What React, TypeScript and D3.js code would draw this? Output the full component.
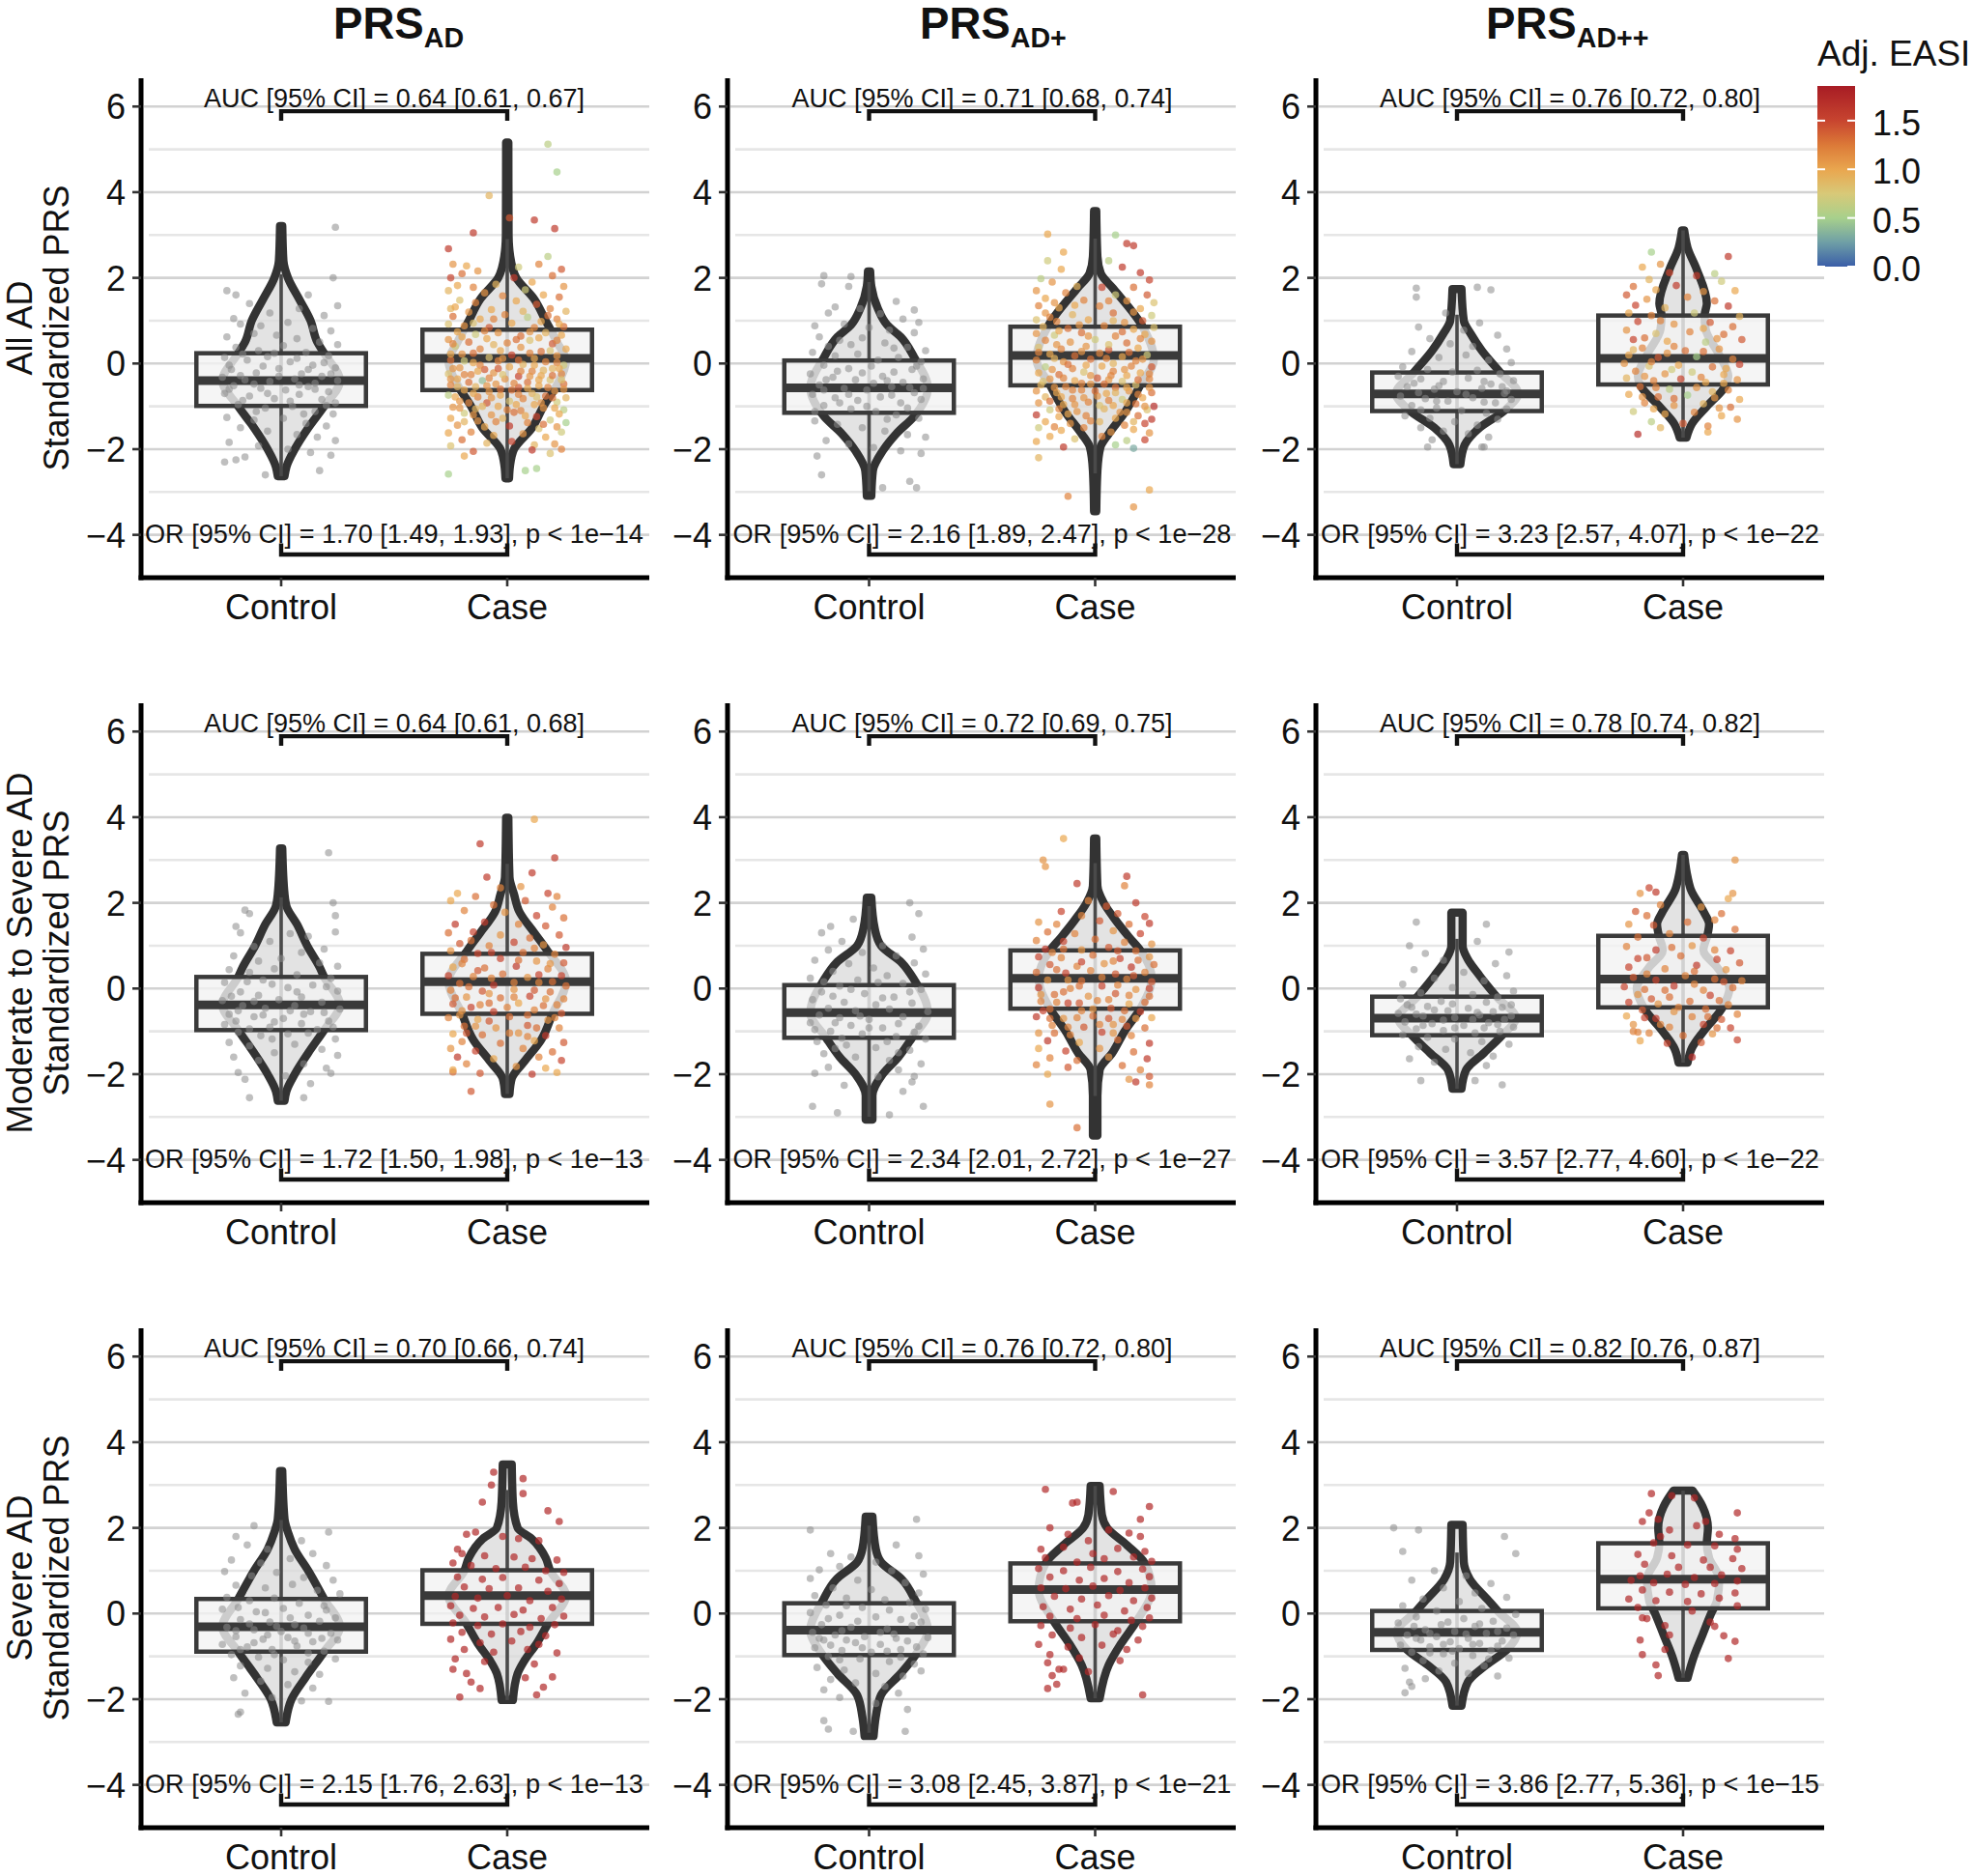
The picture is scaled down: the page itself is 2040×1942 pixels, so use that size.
import React from "react";
import * as d3 from "d3";

// Values below.
// The point clouds are a hand-transcribed, thinner sample of the original jitter clouds:
// the densest clouds cannot be resolved point by point in the reference.
const columnNames = ["AD", "AD+", "AD++"];
const groupNames = ["Control", "Case"];
const rowFirstLines = ["All AD", "Moderate to Severe AD", "Severe AD"];
const aucLabels = [
  "AUC [95% CI] = 0.64 [0.61, 0.67]", "AUC [95% CI] = 0.71 [0.68, 0.74]", "AUC [95% CI] = 0.76 [0.72, 0.80]",
  "AUC [95% CI] = 0.64 [0.61, 0.68]", "AUC [95% CI] = 0.72 [0.69, 0.75]", "AUC [95% CI] = 0.78 [0.74, 0.82]",
  "AUC [95% CI] = 0.70 [0.66, 0.74]", "AUC [95% CI] = 0.76 [0.72, 0.80]", "AUC [95% CI] = 0.82 [0.76, 0.87]",
];
const orLabels = [
  "OR [95% CI] = 1.70 [1.49, 1.93], p < 1e−14", "OR [95% CI] = 2.16 [1.89, 2.47], p < 1e−28", "OR [95% CI] = 3.23 [2.57, 4.07], p < 1e−22",
  "OR [95% CI] = 1.72 [1.50, 1.98], p < 1e−13", "OR [95% CI] = 2.34 [2.01, 2.72], p < 1e−27", "OR [95% CI] = 3.57 [2.77, 4.60], p < 1e−22",
  "OR [95% CI] = 2.15 [1.76, 2.63], p < 1e−13", "OR [95% CI] = 3.08 [2.45, 3.87], p < 1e−21", "OR [95% CI] = 3.86 [2.77, 5.36], p < 1e−15",
];
const majorTicks = [6, 4, 2, 0, -2, -4];
const minorTicks = [5, 3, 1, -1, -3];
const legendTicks = [1.5, 1.0, 0.5, 0.0];

// [q1, median, q3] per panel, control then case
const boxes = [
  [[-0.99, -0.4, 0.24], [-0.62, 0.12, 0.79]], [[-1.15, -0.57, 0.07], [-0.51, 0.19, 0.86]], [[-1.11, -0.71, -0.21], [-0.49, 0.12, 1.12]],
  [[-0.97, -0.38, 0.27], [-0.59, 0.16, 0.81]], [[-1.15, -0.56, 0.08], [-0.47, 0.24, 0.89]], [[-1.09, -0.69, -0.19], [-0.44, 0.22, 1.23]],
  [[-0.89, -0.31, 0.34], [-0.24, 0.42, 1.01]], [[-0.97, -0.39, 0.24], [-0.18, 0.56, 1.17]], [[-0.85, -0.44, 0.06], [0.12, 0.8, 1.64]],
];

// violin outlines: [PRS, half width in hundredths of the control-case distance]
const violin11a = [[3.21,.5],[2.4,1],[2,3],[1.5,8],[1,13],[.5,16],[.24,19],[-.4,26],[-1,19],[-1.5,12],[-2,6],[-2.4,2.4],[-2.63,1.5]];
const violin11b = [[5.16,.5],[3,.6],[2.5,1.3],[2,4],[1.5,12],[1,17],[.5,22],[.05,26],[-.5,22],[-1,16],[-1.5,11],[-2,3],[-2.4,1.2],[-2.68,.8]];
const violin12a = [[2.15,.5],[1.8,1],[1.27,4],[.9,8],[.62,14],[.14,20],[-.57,26],[-1.23,20],[-1.64,12],[-2.04,6],[-2.5,1.7],[-3.09,1]];
const violin12b = [[3.56,.5],[2.5,1],[2.1,2.5],[1.75,8],[.86,21],[.1,26],[-.5,20],[-1.15,13],[-1.64,6],[-1.96,2.3],[-2.5,1],[-3.45,.5]];
const violin13a = [[1.74,2],[1,3],[.7,6],[.3,11],[-.2,19],[-.7,27],[-1.1,21],[-1.5,10],[-1.9,3.4],[-2.35,1.5]];
const violin13b = [[3.11,.5],[2.7,2],[2.2,6],[1.4,10.5],[1.12,9.5],[.8,10],[.2,16],[-.3,20],[-.5,19],[-1,10.5],[-1.4,4],[-1.73,1.5]];
const violin21a = [[3.27,.5],[2.2,1.5],[1.9,2.5],[1.5,7],[1,11.5],[.5,17],[.27,19],[-.38,26],[-.97,19],[-1.5,12],[-2,6],[-2.4,2.3],[-2.62,1.5]];
const violin21b = [[3.99,.5],[2.6,1],[2.2,3],[1.8,5.3],[1.3,12],[.9,17.5],[.16,26],[-.59,20],[-1.2,15],[-1.7,7.6],[-2.1,2],[-2.46,1]];
const violin22a = [[2.12,1],[1.4,2.5],[1,5.3],[.6,14.5],[.2,20],[-.56,26],[-1.15,19],[-1.6,13],[-2,6],[-2.5,1.5],[-3.06,1.5]];
const violin22b = [[3.5,.5],[2.4,1],[2,3.8],[1.6,9],[1.2,15],[.89,20],[.24,25],[-.47,20],[-1,13],[-1.5,7.6],[-1.9,2],[-2.5,1],[-3.43,1]];
const violin23a = [[1.77,2.5],[1,2.5],[.7,4.6],[.3,10],[-.19,17.5],[-.69,26],[-1.09,20],[-1.5,12],[-1.9,4],[-2.34,2]];
const violin23b = [[3.12,.5],[2.6,2],[2.3,3.5],[1.8,9],[1.5,11.5],[1.23,10.7],[.9,9],[.5,15],[0,20.5],[-.44,17.5],[-1,9],[-1.4,3.8],[-1.73,2]];
const violin31a = [[3.33,.5],[2.2,1.5],[1.9,3],[1.5,6],[1,12],[.34,19],[-.31,26],[-.89,19],[-1.5,10.7],[-2,4.6],[-2.54,2]];
const violin31b = [[3.48,2],[2.6,2.5],[2,4.6],[1.75,10.7],[1.3,17],[1,19],[.42,26],[-.24,18],[-.7,13],[-1.1,7.6],[-1.4,4.6],[-2.02,2.5]];
const violin32a = [[2.26,1.5],[1.5,3],[1.2,5.3],[.8,14.5],[.3,20.5],[-.39,26],[-.97,20.5],[-1.4,14],[-1.9,5.3],[-2.4,3],[-2.86,2]];
const violin32b = [[2.98,2],[2.3,3],[2,5.3],[1.6,14],[1.17,22],[.56,25],[-.18,18.3],[-.7,11.5],[-1.2,6],[-1.98,2]];
const violin33a = [[2.07,2.5],[1.2,3],[.8,5.7],[.3,14],[.06,18],[-.44,26.7],[-.85,22],[-1.2,13],[-1.6,4.8],[-2.15,2]];
const violin33b = [[2.87,4.2],[2.5,8.6],[2,11],[1.64,10.5],[1.3,11.5],[.8,16],[.3,15],[0,12.4],[-.5,8.6],[-1,4.8],[-1.5,2]];

const violins = [
  [violin11a, violin11b], [violin12a, violin12b], [violin13a, violin13b],
  [violin21a, violin21b], [violin22a, violin22b], [violin23a, violin23b],
  [violin31a, violin31b], [violin32a, violin32b], [violin33a, violin33b],
];

// control clouds: x offset, PRS (both in hundredths)
const ctrl11 = [24,318,23,200,-24,170,-20,160,12,160,25,135,-25,-230,17,-250,-7,-260,-20,-225,-14,140,-5,118,8,128,19,112,-21,105,-18,92,-9,88,3,96,14,82,22,76,-24,62,-12,70,-2,66,7,58,17,50,25,44,-20,38,-10,30,1,42,11,26,21,18,-25,14,-15,8,-6,16,4,4,14,-4,24,-10,-22,-14,-11,-22,-1,-12,9,-24,18,-30,-26,-32,-16,-38,-5,-42,6,-36,15,-46,25,-40,-21,-52,-9,-58,2,-62,12,-54,21,-66,-25,-70,-14,-76,-3,-82,8,-72,18,-84,24,-92,-19,-96,-7,-104,5,-100,15,-112,23,-118,-24,-126,-12,-132,1,-128,11,-140,20,-146,-18,-150,-6,-158,7,-166,16,-172,24,-180,-23,-184,-10,-192,3,-200,13,-208,22,-214,-16,-218,-17,22,-3,24,7,12,19,2,-23,-4,-8,-6,12,-14,-18,-28,-1,-30,22,-24,-12,-48,8,-50,-23,-60,-6,-70,15,-60,-17,-86,4,-88,20,-98,-11,-112,10,-118];
const ctrl12 = [-20,205,-8,203,-21,186,-9,180,12,145,20,125,18,-275,21,-290,-21,-260,6,-290,-15,132,-4,128,-18,118,5,116,15,104,22,96,-24,88,-11,92,0,84,9,78,20,72,-22,62,-13,54,-3,60,7,48,17,38,25,30,-25,26,-15,18,-5,22,4,8,13,14,23,4,-20,-4,-9,-12,1,-6,11,-20,19,-14,-26,-24,-16,-32,-6,-38,6,-30,15,-44,24,-36,-22,-50,-11,-58,-1,-62,10,-54,20,-68,-25,-72,-15,-80,-5,-86,5,-78,14,-92,23,-84,-20,-98,-8,-106,3,-112,12,-120,22,-128,-24,-134,-14,-142,-3,-150,7,-158,17,-166,25,-172,-19,-180,-9,-188,2,-196,14,-204,23,-210,-23,-216,-18,40,-8,44,11,36,21,-6,-14,-18,-3,-22,8,-40,-19,-38,2,-46,18,-56,-9,-72,-20,-62,10,-74,24,-58,-13,-92,-1,-100,17,-104,-24,-112,8,-130];
const ctrl13 = [-18,176,9,178,-18,155,15,172,11,-195,-13,-195,12,-195,-5,118,10,95,-17,85,3,78,18,66,-12,58,-3,46,7,40,22,34,-20,28,-8,14,4,20,14,8,24,2,-24,-8,-13,-14,-2,-20,9,-16,19,-24,-26,-30,-16,-36,-6,-42,5,-34,15,-48,25,-40,-22,-54,-10,-60,0,-66,11,-58,21,-70,-25,-76,-14,-82,-4,-88,7,-80,17,-92,24,-84,-20,-98,-9,-104,2,-110,13,-116,22,-106,-23,-122,-12,-128,-1,-136,9,-144,18,-130,-16,-150,-6,-158,5,-164,14,-172,-11,-178,-19,-46,-8,-52,12,-42,20,-54,-17,-68,4,-72,22,-64,-9,-88,12,-90,-16,-108];
const ctrl21 = [21,317,23,200,-16,183,-14,175,24,170,-14,-255,10,-255,-20,145,-18,130,24,132,12,122,-5,110,4,128,-12,98,19,92,-21,76,9,84,0,70,-10,64,17,60,25,52,-23,44,-14,38,-3,46,7,32,22,24,-25,14,-8,20,14,8,3,2,-18,-8,25,-6,-10,-16,9,-20,-26,-28,-1,-26,18,-32,-17,-40,-7,-46,6,-40,26,-48,13,-54,-23,-60,-12,-66,1,-70,21,-76,-25,-84,-5,-90,9,-82,16,-96,-19,-102,-9,-110,3,-106,24,-118,-23,-126,-14,-134,6,-130,18,-142,-3,-150,25,-156,-21,-160,-10,-168,10,-176,20,-186,-19,-196,2,-204,22,-198,-16,-212,13,-222,-15,16,-4,10,7,-8,20,4,-22,-18,-12,-30,4,-52,-19,-52,19,-56,-8,-62,10,-60,-20,-76,-3,-78,23,-90,-14,-94,12,-104,-4,-118];
const ctrl22 = [18,200,22,175,-17,145,-25,-275,-14,-290,24,-275,9,-295,-7,162,-21,130,-12,110,19,120,6,100,24,92,-18,90,-3,84,12,76,-24,66,-9,58,20,60,2,48,-16,40,8,30,25,34,-26,24,-5,20,15,12,-13,6,23,-2,-21,-8,-2,-12,11,-20,-25,-26,-11,-32,3,-38,19,-34,-18,-46,-6,-52,9,-48,26,-54,-22,-62,-13,-68,0,-72,15,-66,-26,-80,-8,-86,6,-92,22,-88,-17,-100,-3,-106,12,-112,25,-118,-23,-124,-10,-132,3,-138,18,-144,-20,-152,-6,-160,9,-168,23,-176,-18,-184,13,-190,-24,-198,4,-206,19,-218,-11,-226,15,-240,20,-205,-20,16,-8,-2,4,14,18,-8,-16,-18,6,-22,-4,-64,13,-82,-15,-80,0,-92,-24,-96,20,-102,-12,-116,8,-124,-15,-140,13,-150];
const ctrl23 = [-18,155,13,150,-21,100,23,85,-16,-215,8,-215,20,-225,-14,82,9,110,-6,66,17,58,-19,44,3,38,22,30,-10,24,12,18,-24,10,-2,2,25,-6,-16,-10,7,-14,18,-20,-25,-24,-7,-30,-2,-36,13,-32,24,-38,-20,-44,-10,-50,5,-46,16,-54,-26,-58,-15,-64,-1,-68,10,-62,21,-72,-23,-78,-11,-82,3,-86,14,-80,25,-90,-18,-94,-6,-98,8,-104,19,-100,-24,-108,-13,-114,-1,-118,11,-124,23,-130,-17,-136,-5,-142,6,-150,16,-158,-21,-164,-10,-172,13,-180,-22,-38,-13,-42,-4,-52,9,-56,20,-44,-18,-60,-6,-74,7,-72,18,-84,-15,-86,-1,-92,12,-92,24,-64];
const ctrl31 = [21,190,-20,180,-12,205,9,170,-18,-230,-19,-235,21,-205,-15,160,-6,150,14,140,-22,125,-9,118,4,128,20,112,-25,98,-13,88,-2,96,10,84,23,78,-20,66,-7,60,5,68,16,54,26,46,-24,38,-14,30,-3,36,8,24,19,18,-26,10,-11,4,1,12,12,-4,24,-10,-18,-14,-5,-20,6,-26,17,-18,-24,-32,-12,-38,0,-42,10,-34,22,-46,-20,-54,-8,-60,3,-56,14,-66,25,-62,-26,-72,-15,-78,-4,-84,7,-76,19,-88,-22,-96,-10,-102,1,-108,12,-114,24,-106,-18,-122,-6,-128,6,-136,17,-142,-21,-150,-9,-158,3,-166,14,-174,-16,-186,-4,-196,9,-204,-19,14,-7,2,4,-10,20,8,-14,-24,-2,-30,12,-46,-20,-40,-6,-50,18,-58,-12,-68,6,-64,-18,-84,12,-92,-3,-96];
const ctrl32 = [21,220,-26,195,12,160,22,135,-20,-250,-18,-270,-7,-275,16,-275,-17,140,-8,132,3,120,-22,102,-13,110,10,100,24,92,-26,82,-5,78,16,72,-16,60,1,56,22,48,-24,42,-10,36,7,32,18,26,-19,20,-3,14,25,10,-26,2,-13,-4,3,-8,14,-14,23,-20,-21,-26,-8,-32,8,-36,19,-28,-25,-44,-15,-50,-2,-54,11,-48,26,-56,-20,-62,-6,-68,5,-72,17,-64,-24,-80,-12,-86,1,-90,14,-84,24,-94,-18,-100,-4,-106,9,-112,20,-118,-23,-126,-11,-132,3,-140,15,-146,23,-134,-17,-154,-6,-162,7,-170,-20,-178,13,-186,-13,-196,3,-210,17,-224,-10,18,9,8,-18,-12,-5,-18,20,-6,-12,-40,5,-44,-22,-58,-10,-62,12,-58,-17,-74,-3,-80,8,-88,21,-78,-13,-108,14,-102];
const ctrl33 = [-28,200,-17,195,-24,145,21,180,26,140,-20,-170,-23,-185,-10,100,4,88,-20,78,15,70,-6,60,8,48,-15,34,22,38,1,28,-24,18,11,12,-9,6,26,-2,-18,-8,3,-12,16,-18,-26,-22,-7,-26,8,-30,22,-34,-14,-38,-1,-42,13,-46,-22,-50,-9,-54,5,-58,25,-50,-16,-62,-3,-66,10,-70,20,-64,-25,-74,-12,-78,1,-82,15,-86,-20,-90,-6,-94,7,-98,23,-104,-15,-110,-1,-116,12,-122,-23,-128,-8,-134,5,-140,18,-146,-14,-152,-21,-160,-19,-30,-4,-20,10,-24,-12,-46,4,-48,18,-42,-18,-58,-6,-72,7,-72,18,-76,-12,-92,-2,-88,14,-106];

// case clouds: x offset, PRS (hundredths), adj. EASI
const case11 = [18,512,.6,22,447,.5,-8,392,.9,-15,305,1.6,1,340,1.4,12,335,1.6,21,315,1.6,-26,268,1.6,-26,-258,.5,8,-250,.5,13,-245,.5,-24,232,1.1,-18,228,1,-13,216,1.1,-20,210,1.3,-25,200,1.5,5,225,.7,14,232,1.2,18,250,.6,24,220,1.4,20,205,1.3,11,190,1,-22,182,1,-15,178,1.2,-5,185,.9,3,200,1.6,25,180,1.1,-26,170,.9,-10,165,1.1,-2,158,1.2,8,172,.7,16,160,1,23,155,1.3,-21,148,.8,-14,142,1.2,4,146,1,13,138,1.4,-25,128,.9,-17,120,1.1,-7,126,1,19,128,1.2,26,122,.9,-24,110,1.3,-12,104,1,-1,114,1.2,9,108,.6,15,98,1,22,104,1.2,-26,92,.8,-19,88,1.1,-8,84,1.4,2,94,1,12,84,1.2,25,86,1.3,-22,74,1,-14,68,.7,-4,72,1.1,6,64,1.3,17,72,.9,24,66,1,-26,56,1.1,-17,50,1.3,-9,58,1,0,48,1.2,10,54,.8,20,46,1.4,-23,40,.7,-12,34,1.2,-3,30,1,6,38,1.1,15,28,1.3,26,34,1,-20,22,1.1,-8,14,.8,2,20,1.5,12,12,1,22,18,1.1,-25,8,1.3,-15,2,1,-4,6,1.2,7,-2,.9,17,4,1.2,25,-4,.7,-21,-10,1.1,-10,-14,1.4,1,-8,1,11,-18,1.2,20,-12,.9,-26,-24,.8,-16,-26,1.2,-6,-22,1.1,5,-30,1.5,15,-28,1,24,-24,1.2,-22,-36,1,-11,-40,.4,-1,-36,1.1,9,-44,1.3,19,-38,.8,-25,-50,1.2,-14,-54,.9,-5,-48,1.1,5,-56,1.4,14,-52,1,25,-48,1.3,-19,-62,1,-8,-66,1.1,2,-62,1.3,11,-70,.9,21,-64,1.1,-26,-74,.6,-13,-78,1.2,-3,-74,1,7,-82,1.2,17,-76,1.3,26,-80,.9,-21,-88,1.1,-9,-92,1.4,1,-88,.8,12,-96,1,22,-90,.7,-24,-102,1.1,-14,-106,.9,-4,-100,1,6,-110,1.2,16,-104,1.1,25,-108,.6,-19,-116,.7,-7,-120,1.1,3,-114,1.3,13,-124,1.5,23,-118,1,-25,-128,1,-13,-134,1.1,-2,-128,.9,9,-138,1.2,19,-132,.7,26,-138,.5,-22,-144,1.1,-10,-148,1,1,-146,1.6,14,-152,.8,22,-148,1.1,-26,-162,1,-16,-160,1.2,-6,-168,1,7,-164,1.1,17,-172,1,24,-160,.7,-20,-178,1.3,-9,-186,.9,2,-182,1.5,12,-190,.9,21,-188,1.1,-25,-192,.8,-15,-205,1.4,11,-202,1.6,24,-200,1.2,-19,-216,1,19,-210,.8,-23,132,1,-6,104,1.2,7,122,.9,18,112,1.3,-15,94,.8,23,92,1,-10,76,1.2,10,74,1.1,-20,62,1,4,56,1.3,14,60,1,22,54,1.2,-24,46,1.2,-6,44,.9,-15,24,1.3,10,24,1.2,19,30,.8,-25,22,1,-2,12,1.1,-19,6,.7,-12,-4,1.2,5,8,1.3,12,-4,1,22,2,1.2,-24,-12,1.1,-4,-12,1.4,16,-16,.9,-13,-18,1,6,-18,1.2,23,-12,1,-19,-26,1.2,-2,-26,.8,10,-30,1.1,20,-28,1.3,-25,-36,1.1,-8,-34,1.2,14,-38,1,24,-38,.8,-17,-44,1.3,3,-46,1.2,-22,-54,.9,-9,-52,1.1,9,-58,1,18,-56,1.2,-3,-60,1.3,25,-60,1.1,-15,-70,1,5,-72,1.2,13,-78,.8,-23,-78,1,-7,-80,1.1,20,-80,1.3,-17,-92,1.2,4,-96,1,-11,-100,.9,15,-92,1.1,-21,-104,1.1,0,-108,1.2,21,-104,1,-15,-120,1.1,8,-122,1,-5,-136,1.2,16,-142,1.3,-19,-136,.9];
const case12 = [-21,302,1,-14,260,1,9,300,.5,14,280,1.6,17,275,1.6,-25,-220,.9,24,-295,1,-12,-310,1.2,17,-335,1.1,-21,240,.7,-15,220,1,6,240,.6,12,225,1.6,20,212,1.6,24,195,1.5,-24,198,.6,-19,190,1.1,-8,180,.9,3,178,1.5,17,178,1.3,-26,170,1.1,-13,165,1.2,9,160,.7,23,160,1.4,-22,152,1,-5,148,1.2,14,146,1.1,26,142,.8,-25,135,1.2,-16,130,1,2,134,1.2,20,128,1,-22,118,1.1,-10,114,.9,8,118,1.3,25,112,.7,-26,102,.8,-17,98,1.2,-3,102,1,13,96,1.1,21,100,1.4,-23,86,.9,-12,82,1.3,4,88,1.2,17,80,1,26,84,.8,-26,70,1.1,-18,66,.7,-6,72,1.3,9,64,1.2,22,68,1,-22,54,1.2,-11,50,1.1,0,56,.7,14,48,1.3,25,52,1.1,-25,38,.8,-15,34,1.2,-4,40,1.1,6,32,1.4,19,36,1,-20,22,1,-9,18,1.3,2,24,1.2,12,16,1,23,20,.7,-26,8,1.2,-14,4,1.1,-2,10,1.3,8,0,.9,18,6,1.2,-22,-8,.6,-10,-12,1.2,3,-6,1,13,-14,1.1,25,-8,1.4,-25,-22,1,-16,-26,1.3,-5,-20,.8,7,-28,1.2,20,-22,1,-20,-36,1.1,-9,-40,1,1,-34,1.4,12,-42,.8,24,-36,1.2,-24,-50,.9,-13,-54,1.2,-2,-48,1.1,9,-56,1.3,18,-50,.8,-26,-64,1.1,-17,-68,1,-6,-62,1.2,5,-70,1,15,-64,1.1,25,-68,1.3,-22,-78,.9,-10,-82,1.2,1,-76,1.1,12,-84,.7,21,-80,1,-25,-92,1.1,-14,-96,1,-3,-90,1.2,8,-98,1,18,-94,1.3,26,-100,1.7,-20,-108,.7,-8,-112,1.1,4,-106,.9,14,-114,1.1,23,-108,.8,-26,-120,1.6,-16,-124,1,-4,-122,1.2,9,-128,1,19,-122,1.3,25,-130,1.6,-22,-136,1,-11,-140,1.1,2,-136,.9,13,-144,1.2,22,-140,1.5,-25,-150,.7,-15,-156,1,-5,-150,1.2,7,-160,1.1,17,-154,1,24,-162,1.1,-20,-170,1,-9,-176,.8,3,-170,1.2,14,-180,.6,-26,-182,1,22,-178,1.5,-14,-195,1.6,9,-190,.5,17,-198,.3,-18,142,1.1,-9,136,1,6,146,1.2,17,120,1.1,-20,108,1.2,-7,90,1.1,8,100,.9,-16,76,1,12,74,1.3,-3,64,1.1,20,58,1.2,-17,44,1.1,6,44,.8,-25,26,1.2,-6,28,1.1,15,26,1.3,-18,12,.9,5,12,1.2,21,10,1.1,-12,-2,1.3,-4,-4,1,16,-6,1.2,-19,-14,1.1,8,-18,1.2,-2,-28,1.1,14,-28,1,24,-24,1.2,-14,-34,1.2,6,-38,1.1,19,-38,1.3,-23,-42,.8,-6,-46,1.2,4,-48,1.3,14,-56,1,-18,-56,1.1,-10,-62,1.2,24,-56,1.1,0,-64,1.3,9,-68,.9,19,-72,1.2,-15,-78,1,-5,-80,1.1,6,-86,1.2,-20,-88,1.3,14,-92,1,-9,-96,1.1,-16,-106,1.2,2,-98,.8,22,-100,1.1,-12,-118,1,11,-114,1.1,-2,-134,1.2,17,-136,.9,-18,-148,1.2];
const case13 = [-14,260,.5,20,250,1.6,14,210,.6,-20,-165,1.7,11,-160,1,-18,225,1,-10,232,1.1,-6,212,1.5,-15,196,.9,6,205,1.6,17,192,.7,-22,180,1.3,-12,172,1,-3,182,1.6,9,168,1.1,23,170,1,-25,160,1.4,-16,150,1.1,2,155,1.2,14,146,1.3,-21,136,1.5,-8,130,.9,20,134,1.6,-24,118,1,-14,112,1.2,5,118,.7,25,110,.9,-20,98,1.5,-4,92,1.1,12,96,1.4,22,86,1.3,-25,78,1.1,-12,70,.8,3,74,1.2,18,68,1.3,-22,56,1.5,-7,52,1,10,50,.6,26,56,1.4,-18,36,1.2,1,30,1.3,16,34,1.1,-24,20,1,-11,14,1.4,6,16,.5,22,10,1.2,-26,0,1.1,-15,-6,.8,-2,-4,1,13,-8,1.3,25,-2,1.5,-21,-18,1.2,-8,-24,1.1,4,-20,.7,18,-26,1,-25,-34,.9,-13,-40,1.2,-1,-36,1.5,10,-44,1,24,-38,1.1,-19,-54,1.3,-6,-60,.6,6,-56,1.1,20,-62,1.2,-24,-72,1,-11,-78,1.3,2,-74,.5,14,-80,1.1,25,-84,1,-17,-92,1.2,-4,-98,1.1,9,-94,.9,21,-102,1.3,-22,-112,.7,-8,-118,1,5,-114,1.2,17,-122,1,24,-130,1.1,-14,-136,.6,0,-140,1.4,11,-146,1.2,-10,-150,.9,-10,100,1.2,9,82,1,-17,60,1.3,15,58,1.1,-4,40,1.2,-22,32,.9,-7,24,1.1,9,28,1.3,-14,4,1.2,19,-12,1,-5,-14,.7,8,-32,1.2,-17,-30,1.1,18,-46,1,-12,-56,1.2,13,-66,.9,-18,-78,1.1,-4,-82,1.3,16,-104,1.1,-13,-106,1];
const case21 = [12,395,1,-12,338,1.6,21,305,1.6,11,270,1.6,-24,-195,1.3,-16,-240,1.4,-9,260,1.6,-3,235,1.2,6,238,1.1,18,222,1.5,22,215,1.2,-22,222,1,-25,205,1,-14,215,1.3,8,205,1.4,-6,195,1.3,20,190,1.2,-19,182,1.2,-1,178,1.1,13,170,1.5,25,165,1.3,-23,150,1.6,-10,155,1.6,5,150,1.2,17,146,1.4,-26,130,1.3,-15,132,1.5,-3,125,1.1,10,118,1.3,23,125,1.4,-21,105,1.4,-8,100,1.2,3,108,1.5,16,102,1.1,26,96,1.6,-25,88,1.1,-13,82,1.5,7,84,1.3,21,80,1.2,-19,68,1.3,-3,70,1.5,13,64,1.1,25,60,1.4,-24,50,1,-10,48,1.3,4,52,1.6,18,46,1.2,-26,30,1.5,-15,28,1.2,-2,34,1.3,9,26,1.1,24,30,1.5,-21,12,1.3,-6,8,1.6,14,14,1.2,26,6,1.3,-25,-4,1.2,-11,-6,1.4,3,-2,1.1,19,-8,1.3,-18,-20,1.1,-3,-22,1.3,10,-18,1.5,25,-24,1.2,-24,-36,1.4,-12,-38,1.2,5,-34,1,16,-40,1.3,-20,-52,1.1,-6,-54,1.5,12,-50,1.2,24,-58,1.4,-26,-68,1.2,-13,-72,1,1,-66,1.3,18,-74,1.1,-19,-88,1.3,-5,-92,1.1,9,-86,1.4,23,-92,1.2,-24,-106,1,-11,-108,1.3,5,-104,1.1,17,-110,1.6,-20,-124,1.2,-3,-128,1.3,12,-122,1,25,-126,1.4,-25,-140,1.1,-14,-146,1.5,7,-140,1.2,20,-148,1.3,-22,-160,1.6,-6,-164,1,14,-160,1.2,24,-168,1.5,-18,-176,1.2,4,-182,1.1,-24,-190,1,17,-186,1,-12,-198,1.4,11,-200,1.6,22,-196,1,-16,112,1.3,12,94,1.2,-7,84,1.5,-20,58,1.2,5,66,1.3,19,58,1.1,-13,42,1.4,-7,24,1.2,14,32,1.5,-17,4,1.3,3,14,1.2,20,16,1.3,-8,-12,1.1,12,-4,1.4,-23,-22,1.3,3,-20,1.2,17,-24,1.1,-8,-34,1.3,22,-38,1.2,-16,-44,1.5,0,-44,1.2,9,-62,1.3,-21,-62,1.1,-8,-76,1.4,21,-68,1.2,13,-92,1.3,-14,-88,1.1,1,-104,1.2,-18,-104,1.4,9,-112,1.2];
const case22 = [-14,350,1,-23,300,1.1,-22,285,1.1,14,262,1.6,13,240,1.2,-8,245,1.6,-20,-270,1.1,-8,-325,1.3,24,-225,1.2,-3,205,1.2,5,192,1.4,18,200,1.6,-15,180,1.5,-6,170,1.2,10,175,1.4,22,168,1.5,-25,155,1.1,-17,150,1.2,2,158,1.4,15,150,1.3,24,152,1.6,-21,132,1.3,-9,128,1.2,8,135,1.1,20,128,1.5,-26,112,1.2,-14,110,1.5,0,115,1.3,13,108,1.2,25,104,1.1,-22,92,1.6,-6,90,1.1,6,96,1.4,18,88,1.3,-25,74,1.5,-15,72,1.2,-1,78,1.3,11,70,1.5,24,74,1.1,-20,56,1.4,-8,52,1.2,4,58,1.1,16,50,1.6,26,56,1.3,-26,38,1.3,-13,36,1.5,-2,42,1.2,9,34,1.4,22,38,1.2,-21,20,1.1,-6,18,1.3,14,22,1.2,25,16,1.4,-25,2,1.6,-11,0,1.2,3,6,1.5,18,-2,1.1,-18,-14,1.3,-3,-18,1.1,9,-12,1.4,24,-18,1.3,-24,-30,1.2,-12,-34,1.5,1,-28,1.2,15,-36,1,-20,-48,1.3,-6,-52,1.2,7,-46,1.4,20,-54,1.5,-26,-66,1.6,-14,-70,1.1,-1,-64,1.3,12,-72,1.2,25,-68,1,-19,-86,1.2,-5,-90,1.4,8,-84,1.1,22,-92,1.3,-25,-104,1.1,-11,-108,1.2,3,-102,1.5,16,-110,1.2,-21,-122,1.6,-7,-126,1,10,-120,1.3,24,-128,1.6,-25,-140,1,-13,-146,1.5,2,-140,1.1,17,-148,1.3,-20,-162,1.2,-8,-168,1.3,6,-160,1.1,23,-164,1.6,-26,-178,1.2,-12,-184,1.4,12,-180,1.3,20,-190,1.2,-21,-200,1,24,-205,1.4,15,-212,1.1,18,-218,1.6,-14,92,1.3,10,88,1.4,-19,84,1.2,-6,62,1.5,8,64,1.2,19,66,1.3,-12,20,1.1,-17,44,1.3,3,26,1.2,17,30,1.4,-7,6,1.3,10,8,1.2,24,0,1.5,-14,-8,1.3,15,-16,1.2,-24,-14,1.1,-7,-34,1.4,6,-26,1.2,22,-32,1.3,-17,-32,1.2,-1,-48,1.1,13,-52,1.3,-23,-52,1.5,-8,-68,1.2,6,-70,1.4,18,-70,1.1,-20,-70,1.3,-12,-90,1.2,14,-88,1.4,2,-84,1.2,-18,-104,1.3,8,-104,1.1];
const case23 = [23,300,1.1,22,222,1.1,-15,235,1.5,-22,-100,1.2,4,-160,1.7,-19,222,1.1,-12,225,1.6,20,210,1,-21,180,1.4,-16,170,1.3,-10,195,1.2,8,190,1.1,17,175,1.3,-24,150,1.1,-13,148,1.4,2,155,1.3,14,160,1.2,23,138,1.3,-20,120,1.3,-6,128,1.2,9,118,1.5,-25,98,1.2,-12,90,1.6,4,100,1.1,21,88,1.5,-16,72,1.4,-1,76,1.3,15,68,1.5,25,60,1.4,-24,50,1.5,-8,46,1.2,6,54,1.6,19,44,1.1,-22,26,1.4,-12,20,1.5,1,30,1.2,14,22,1.3,26,18,1.2,-26,4,1.5,-17,-2,1.3,-4,6,1.6,9,-4,1.2,22,2,1.3,-20,-14,1.1,-6,-20,1.3,12,-16,1.5,-24,-32,1.5,-11,-36,1.1,3,-30,1.3,20,-38,1.2,-18,-50,1.4,-4,-54,1.1,10,-48,1.3,-25,-64,1,-12,-70,1.6,4,-66,1.2,17,-72,1.4,24,-60,1.2,-22,-84,1.1,-6,-90,1.2,9,-84,1.5,21,-92,1.5,-15,-104,1.2,0,-110,1.3,13,-106,1.1,-19,-122,1,-7,-128,1.5,8,-126,1.4,24,-120,1.5,-5,96,1.3,14,90,1.2,-20,70,1.5,5,40,1.3,-16,34,1.2,18,16,1.4,-8,-4,1.3,5,10,1.2,-14,-24,1.4,16,-28,1.3,-2,-44,1.2,-17,-68,1.5,11,-66,1.3,-10,-84,1.2,15,-92,1.3,-20,-102,1.2];
const case31 = [-6,330,-7,300,7,280,7,315,18,240,23,215,-18,185,-22,150,-21,-195,13,-190,-11,260,-14,190,-2,180,5,175,14,170,-20,140,-10,135,3,132,11,128,22,125,-24,118,-16,112,-5,105,8,108,17,100,25,96,-22,85,-11,80,-2,84,14,78,23,70,-19,62,-8,58,5,60,18,52,-23,40,-13,36,0,42,10,30,24,34,-25,18,-15,12,-4,14,7,8,20,14,-21,-4,-10,-8,3,-2,15,-12,25,-6,-24,-22,-13,-28,-2,-24,10,-32,21,-26,-20,-44,-7,-48,6,-42,17,-52,-25,-60,-12,-68,2,-64,14,-72,-19,-84,-6,-90,9,-84,22,-92,-23,-106,-10,-112,12,-118,-24,-130,-18,-140,8,-150,-16,-160,20,-148,-12,-175,16,-172];
const case32 = [-22,290,-8,260,-10,258,8,285,24,250,20,220,-21,-175,-17,-165,21,-190,-20,200,-12,185,-3,170,6,195,15,188,20,180,-24,150,-14,155,-1,140,10,152,22,145,-22,130,-8,120,4,128,17,132,25,122,-25,105,-14,100,-2,108,10,98,21,104,-20,85,-7,78,4,82,15,72,24,86,-24,60,-13,58,-1,64,11,54,22,60,-18,40,-6,34,6,42,17,30,25,36,-23,16,-11,10,1,20,13,6,23,14,-20,-6,-8,-12,4,-4,16,-16,24,-10,-24,-28,-11,-34,0,-26,10,-40,21,-30,-19,-50,-6,-56,8,-48,19,-62,-25,-72,-12,-78,3,-74,14,-84,-20,-96,-7,-104,-21,-115,11,-110,-16,-130,-3,-136,-14,-130,-19,-145];
const case33 = [-14,280,-18,215,24,235,-18,-10,-11,-145,-12,-120,14,-30,-5,275,5,270,-15,235,-11,220,10,215,-6,195,6,205,16,185,-10,180,23,175,-13,165,2,160,14,158,24,150,-20,138,-5,135,9,125,22,128,-17,115,-2,108,12,108,26,105,-19,88,-7,92,5,84,17,90,-23,78,-13,72,1,68,14,70,24,76,-18,55,-6,50,8,46,23,48,-24,34,-12,30,2,28,16,36,-20,14,4,6,24,18,-16,-12,-8,-28,12,-20,-6,-50,18,-52,-19,-62,23,-65,-8,-84,-18,-96,20,-105];

const controlPoints = [ctrl11, ctrl12, ctrl13, ctrl21, ctrl22, ctrl23, ctrl31, ctrl32, ctrl33];
const casePoints = [case11, case12, case13, case21, case22, case23];
const severeCasePoints = [case31, case32, case33];
const severeEasi = 1.75;

const easiColor = d3.scaleLinear<string>()
  .domain([0, 0.25, 0.5, 0.75, 1, 1.25, 1.5, 1.85])
  .range(["#3a5ea8", "#6f9fa6", "#a7d08c", "#d8c978", "#e9a64f", "#dc7a38", "#c8452f", "#a81d25"]);

const FONT = '"Liberation Sans", Arial, sans-serif';
const panelLefts = [146, 753, 1362];
const controlXs = [291, 899.5, 1508];
const panelTops = [81, 728, 1375];
const PANEL_W = 526;
const PANEL_H = 517;
const GROUP_GAP = 234;
const AX = 5;
const INK = "#3a3a3a";
const DOT = 3.8;

function Panel({ r, c }: { r: number; c: number }) {
  const i = r * 3 + c;
  const left = panelLefts[c];
  const top = panelTops[r];
  const y = d3.scaleLinear().domain([-5, 6.66]).range([top + PANEL_H, top]);
  const x = d3.scaleLinear().domain([0, 1]).range([controlXs[c], controlXs[c] + GROUP_GAP]);
  const xc = x(0.5);
  const right = left + PANEL_W;
  const halfBox = 0.375;
  const ctrl = controlPoints[i];
  const kase = r < 2 ? casePoints[i] : severeCasePoints[c];
  const step = r < 2 ? 3 : 2;
  return (
    <g>
      {minorTicks.map((t) => (
        <line key={t} x1={left + 8} x2={right} y1={y(t)} y2={y(t)} stroke="#e6e6e6" strokeWidth={2.6} />
      ))}
      {majorTicks.map((t) => (
        <line key={t} x1={left + 3} x2={right} y1={y(t)} y2={y(t)} stroke="#d2d2d2" strokeWidth={2.6} />
      ))}
      {[0, 1].map((g) => {
        const cx = x(g);
        const prof = violins[i][g] as number[][];
        const area = d3
          .area<number[]>()
          .y((d) => y(d[0]))
          .x0((d) => x(g - d[1] / 100))
          .x1((d) => x(g + d[1] / 100))
          .curve(d3.curveMonotoneY);
        const [q1, med, q3] = boxes[i][g];
        const iqr = q3 - q1;
        const yTop = prof[0][0];
        const yBot = prof[prof.length - 1][0];
        const wHi = Math.min(yTop, q3 + 1.5 * iqr);
        const wLo = Math.max(yBot, q1 - 1.5 * iqr);
        return (
          <g key={g}>
            <path d={area(prof) as string} fill="#d9d9d9" fillOpacity={0.75} stroke="#333" strokeWidth={8.5} strokeLinejoin="round" />
            <line x1={cx} x2={cx} y1={y(wHi)} y2={y(wLo)} stroke="#4a4a4a" strokeWidth={3.6} />
            <rect x={x(g - halfBox)} width={x(g + halfBox) - x(g - halfBox)} y={y(q3)} height={y(q1) - y(q3)} fill="#f2f2f2" fillOpacity={0.8} stroke={INK} strokeWidth={4.5} />
            <line x1={x(g - halfBox)} x2={x(g + halfBox)} y1={y(med)} y2={y(med)} stroke={INK} strokeWidth={9} />
          </g>
        );
      })}
      {d3.range(0, ctrl.length, 2).map((k) => (
        <circle key={k} cx={x(ctrl[k] / 100)} cy={y(ctrl[k + 1] / 100)} r={DOT} fill="#8a8a8a" fillOpacity={0.55} />
      ))}
      {d3.range(0, kase.length, step).map((k) => (
        <circle key={k} cx={x(1 + kase[k] / 100)} cy={y(kase[k + 1] / 100)} r={DOT} fill={easiColor(r < 2 ? kase[k + 2] : severeEasi)} fillOpacity={0.7} />
      ))}
      <path d={`M${x(0)},${y(5.67)}V${y(5.89)}H${x(1)}V${y(5.67)}`} fill="none" stroke="#111" strokeWidth={4.4} />
      <path d={`M${x(0)},${y(-4.2)}V${y(-4.46)}H${x(1)}V${y(-4.2)}`} fill="none" stroke="#111" strokeWidth={4.4} />
      <text x={xc} y={y(5.98)} textAnchor="middle" fontSize={27} fontFamily={FONT} fill="#111">{aucLabels[i]}</text>
      <text x={xc} y={y(-4.19)} textAnchor="middle" fontSize={27.1} fontFamily={FONT} fill="#111">{orLabels[i]}</text>
      <line x1={left} x2={left} y1={top} y2={top + PANEL_H + AX / 2} stroke="#000" strokeWidth={AX} />
      <line x1={left - AX / 2} x2={right} y1={top + PANEL_H} y2={top + PANEL_H} stroke="#000" strokeWidth={AX} />
      {majorTicks.map((t) => (
        <g key={t}>
          <line x1={left - 9} x2={left} y1={y(t)} y2={y(t)} stroke="#333" strokeWidth={2.6} />
          <text x={left - 16} y={y(t)} dy="0.36em" textAnchor="end" fontSize={36} fontFamily={FONT} fill="#111">
            {t < 0 ? `−${-t}` : t}
          </text>
        </g>
      ))}
      {groupNames.map((n, g) => (
        <g key={n}>
          <line x1={x(g)} x2={x(g)} y1={top + PANEL_H} y2={top + PANEL_H + 9} stroke="#333" strokeWidth={2.6} />
          <text x={x(g)} y={top + PANEL_H + 43} textAnchor="middle" fontSize={36} fontFamily={FONT} fill="#111">{n}</text>
        </g>
      ))}
    </g>
  );
}

export default function App() {
  const legendY = d3.scaleLinear().domain([0, 1.856]).range([276, 89]);
  const gradStops = d3.range(0, 1.8601, 0.05);
  return (
    <svg width={2040} height={1942} style={{ position: "absolute", left: 0, top: 0, background: "#fff" }}>
      <defs>
        <linearGradient id="easi" x1="0" x2="0" y1="1" y2="0">
          {gradStops.map((v) => (
            <stop key={v} offset={v / 1.86} stopColor={easiColor(v)} />
          ))}
        </linearGradient>
      </defs>
      {columnNames.map((n, c) => {
        const titleX = [345, 952, 1538][c];
        return (
          <text key={n} x={titleX} y={40} fontSize={45.6} fontWeight="bold" fontFamily={FONT} fill="#111">
            PRS<tspan dy={9} fontSize={28.6}>{n}</tspan>
          </text>
        );
      })}
      {rowFirstLines.map((n, r) => {
        const cy = panelTops[r] + PANEL_H / 2;
        return (
          <g key={n}>
            <text transform={`translate(33,${cy}) rotate(-90)`} textAnchor="middle" fontSize={36} fontFamily={FONT} fill="#111">{n}</text>
            <text transform={`translate(71,${cy}) rotate(-90)`} textAnchor="middle" fontSize={36} fontFamily={FONT} fill="#111">Standardized PRS</text>
          </g>
        );
      })}
      {[0, 1, 2].map((r) => [0, 1, 2].map((c) => <Panel key={`${r}${c}`} r={r} c={c} />))}
      <text x={1881} y={68} fontSize={37} fontFamily={FONT} fill="#111">Adj. EASI</text>
      <rect x={1881} y={89} width={39} height={187} fill="url(#easi)" />
      {legendTicks.map((t) => (
        <g key={t}>
          <line x1={1881} x2={1889} y1={legendY(t)} y2={legendY(t)} stroke="#fff" strokeWidth={2} />
          <line x1={1912} x2={1920} y1={legendY(t)} y2={legendY(t)} stroke="#fff" strokeWidth={2} />
          <text x={1938} y={legendY(t) + 2} dy="0.36em" fontSize={36} fontFamily={FONT} fill="#111">{t.toFixed(1)}</text>
        </g>
      ))}
    </svg>
  );
}
